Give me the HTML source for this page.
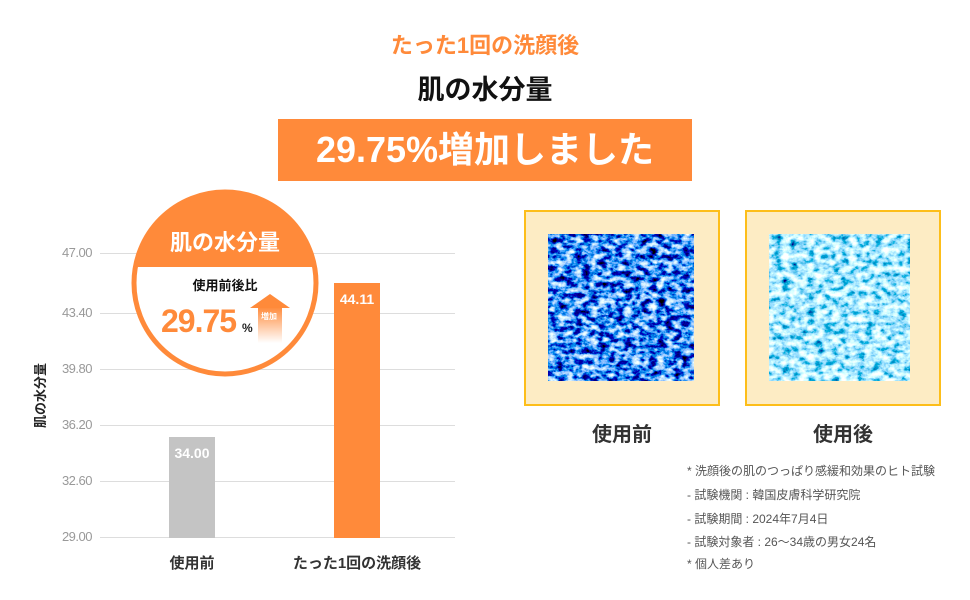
<!DOCTYPE html>
<html><head><meta charset="utf-8"><style>
*{margin:0;padding:0;box-sizing:border-box}
body{width:970px;height:600px;background:#fff;position:relative;overflow:hidden;font-family:"Liberation Sans","Noto Sans CJK JP",sans-serif}
.a{position:absolute;white-space:nowrap}
.grid{position:absolute;left:100px;width:355px;height:1px;background:#ddd}
.yl{position:absolute;left:40px;width:52px;text-align:right;font-size:13px;color:#999;letter-spacing:-0.5px}
.note{position:absolute;left:687px;font-size:12px;color:#555}
</style></head><body>
<div class="a" style="left:0;width:970px;top:28px;text-align:center;font-size:22px;font-weight:bold;color:#ff8a3a">たった1回の洗顔後</div>
<div class="a" style="left:0;width:970px;top:68px;text-align:center;font-size:27px;font-weight:bold;color:#111">肌の水分量</div>
<div class="a" style="left:278px;top:119px;width:414px;height:62px;background:#ff8a3a;color:#fff;font-size:36px;font-weight:bold;text-align:center;line-height:62px">29.75%増加しました</div>

<div class="grid" style="top:253px"></div><div class="grid" style="top:313px"></div><div class="grid" style="top:369px"></div><div class="grid" style="top:425px"></div><div class="grid" style="top:481px"></div><div class="grid" style="top:537px"></div>
<div class="yl" style="top:245px">47.00</div><div class="yl" style="top:305px">43.40</div><div class="yl" style="top:361px">39.80</div><div class="yl" style="top:417px">36.20</div><div class="yl" style="top:473px">32.60</div><div class="yl" style="top:529px">29.00</div>
<div class="a" style="left:7px;top:386px;font-size:13px;font-weight:bold;color:#222;transform:rotate(-90deg)">肌の水分量</div>
<div class="a" style="left:169px;top:437px;width:46px;height:101px;background:#c4c4c4;color:#fff;font-size:14px;font-weight:bold;text-align:center;padding-top:8px">34.00</div>
<div class="a" style="left:334px;top:283px;width:46px;height:255px;background:#ff8a3a;color:#fff;font-size:14px;font-weight:bold;text-align:center;padding-top:8px">44.11</div>
<div class="a" style="left:142px;width:100px;text-align:center;top:552px;font-size:15px;font-weight:bold;color:#333">使用前</div>
<div class="a" style="left:277px;width:160px;text-align:center;top:552px;font-size:15px;font-weight:bold;color:#333">たった1回の洗顔後</div>

<svg class="a" style="left:128px;top:186px" width="194" height="194" viewBox="0 0 194 194">
<defs><clipPath id="c"><circle cx="97" cy="97" r="92"/></clipPath>
<linearGradient id="g" x1="0" y1="0" x2="0" y2="1"><stop offset="0" stop-color="#ff8a3a"/><stop offset="1" stop-color="#ff8a3a" stop-opacity="0"/></linearGradient></defs>
<circle cx="97" cy="97" r="92" fill="#fff"/>
<rect x="0" y="0" width="194" height="81" fill="#ff8a3a" clip-path="url(#c)"/>
<circle cx="97" cy="97" r="91" fill="none" stroke="#ff8a3a" stroke-width="5"/>
<text x="97" y="64" text-anchor="middle" font-size="22" font-weight="bold" fill="#fff" font-family="Liberation Sans,Noto Sans CJK JP,sans-serif">肌の水分量</text>
<text x="97" y="104" text-anchor="middle" font-size="13" font-weight="bold" fill="#111" font-family="Liberation Sans,Noto Sans CJK JP,sans-serif">使用前後比</text>
<text x="33" y="146" font-size="32" font-weight="bold" fill="#ff8a3a" font-family="Liberation Sans,sans-serif" letter-spacing="-1">29.75</text>
<text x="114" y="146" font-size="12" font-weight="bold" fill="#222" font-family="Liberation Sans,sans-serif">%</text>
<rect x="130" y="121" width="24" height="36" fill="url(#g)"/>
<path d="M122 122 L142 108 L162 122 Z" fill="#ff8a3a"/>
<text x="133" y="133" font-size="8" font-weight="bold" fill="#fff" font-family="Noto Sans CJK JP,sans-serif">増加</text>
</svg>

<svg class="a" style="left:524px;top:210px" width="420" height="196">
<defs>
<filter id="t1" x="0" y="0" width="100%" height="100%"><feTurbulence type="fractalNoise" baseFrequency="0.12 0.18" numOctaves="4" seed="3"/><feColorMatrix type="matrix" values="3 0 0 0 -1.5  2.6 0 0 0 -1.0  3 0 0 0 -0.6  0 0 0 0 1"/></filter>
<filter id="t2" x="0" y="0" width="100%" height="100%"><feTurbulence type="fractalNoise" baseFrequency="0.12 0.16" numOctaves="4" seed="8"/><feColorMatrix type="matrix" values="2.4 0 0 0 -0.8  2 0 0 0 -0.2  2 0 0 0 0.1  0 0 0 0 1"/></filter>
</defs>
<rect x="1" y="1" width="194" height="194" fill="#fdecc4" stroke="#fdbe1a" stroke-width="2"/>
<rect x="24" y="24" width="146" height="147" filter="url(#t1)"/>
<rect x="222" y="1" width="194" height="194" fill="#fdecc4" stroke="#fdbe1a" stroke-width="2"/>
<rect x="245" y="24" width="141" height="147" filter="url(#t2)"/>
</svg>
<div class="a" style="left:524px;width:196px;text-align:center;top:418px;font-size:20px;font-weight:bold;color:#333">使用前</div>
<div class="a" style="left:745px;width:196px;text-align:center;top:418px;font-size:20px;font-weight:bold;color:#333">使用後</div>

<div class="note" style="top:462px">* 洗顔後の肌のつっぱり感緩和効果のヒト試験</div>
<div class="note" style="top:486px">- 試験機関 : 韓国皮膚科学研究院</div>
<div class="note" style="top:510px">- 試験期間 : 2024年7月4日</div>
<div class="note" style="top:533px">- 試験対象者 : 26～34歳の男女24名</div>
<div class="note" style="top:555px">* 個人差あり</div>
</body></html>
